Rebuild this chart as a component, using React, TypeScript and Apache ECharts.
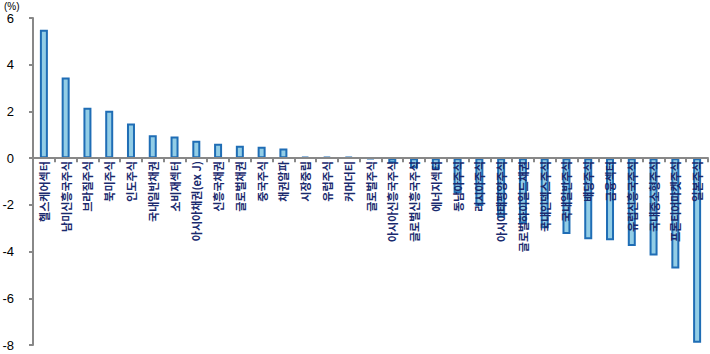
import React, { useEffect, useRef } from "react";
import * as echarts from "echarts";

const categories = [
  "헬스케어섹터", "남미신흥국주식", "브라질주식", "북미주식", "인도주식", "국내일반채권",
  "소비재섹터", "아시아채권(ex J)", "신흥국채권", "글로벌채권", "중국주식", "채권알파",
  "시장중립", "유럽주식", "커머더티", "글로벌주식", "아시아신흥국주식", "글로벌신흥국주식",
  "에너지섹터", "동남아주식", "러시아주식", "아시아태평양주식", "글로벌하이일드채권",
  "국내인덱스주식", "국내일반주식", "배당주식", "금융섹터", "유럽신흥국주식",
  "국내중소형주식", "프론티어마켓주식", "일본주식",
];

const values = [
  5.5, 3.45, 2.16, 2.03, 1.48, 0.98,
  0.93, 0.75, 0.62, 0.53, 0.49, 0.41,
  0.06, 0.06, 0.05, -0.04, -0.22, -0.43,
  -0.48, -1.5, -2.05, -2.55, -2.8,
  -3.0, -3.25, -3.47, -3.52, -3.76,
  -4.17, -4.72, -7.9,
];

const yMin = -8;
const yMax = 6;
const yInterval = 2;

const W = 710;
const H = 354;
const gridTop = 18;
const gridBottom = 9;

export default function App() {
  const ref = useRef<HTMLDivElement>(null);
  useEffect(() => {
    if (!ref.current) return;
    const chart = echarts.init(ref.current, null, { renderer: "svg" });
    const plotH = H - gridTop - gridBottom;
    const zeroOffset = (plotH * (0 - yMin)) / (yMax - yMin);
    chart.setOption({
      animation: false,
      grid: { left: 33, right: 2, top: gridTop, bottom: gridBottom, containLabel: false, outerBoundsMode: "none" },
      graphic: [
        {
          type: "text",
          x: 4,
          y: 1,
          style: {
            text: "(%)",
            fontSize: 10,
            lineHeight: 10,
            fontFamily: "Arial",
            fill: "#000",
            textVerticalAlign: "top",
          },
        },
      ],
      xAxis: {
        type: "category",
        data: categories,
        z: 10,
        offset: -zeroOffset,
        axisLine: { onZero: false, lineStyle: { color: "#888", width: 2 } },
        axisTick: { show: true, length: 4, alignWithLabel: false, lineStyle: { color: "#888", width: 2 } },
        axisLabel: {
          interval: 0,
          rotate: 90,
          margin: 3,
          fontSize: 11,
          fontWeight: "bold",
          color: "#1a2a6e",
          fontFamily: "Noto Sans CJK KR",
        },
      },
      yAxis: {
        type: "value",
        min: yMin,
        max: yMax,
        interval: yInterval,
        axisLine: { show: true, lineStyle: { color: "#888", width: 2 } },
        axisTick: { show: true, length: 4, lineStyle: { color: "#888", width: 2 } },
        splitLine: { show: false },
        axisLabel: {
          margin: 19,
          fontSize: 13,
          lineHeight: 13,
          color: "#000",
          fontFamily: "Arial",
          formatter: (v: number) => String(v),
        },
      },
      series: [
        {
          type: "bar",
          data: values,
          barWidth: 8,
          itemStyle: { color: "#92cde6", borderColor: "#1f6db5", borderWidth: 2 },
        },
      ],
    });
    return () => chart.dispose();
  }, []);
  return <div ref={ref} style={{ position: "absolute", left: 0, top: 0, width: W, height: H }} />;
}
